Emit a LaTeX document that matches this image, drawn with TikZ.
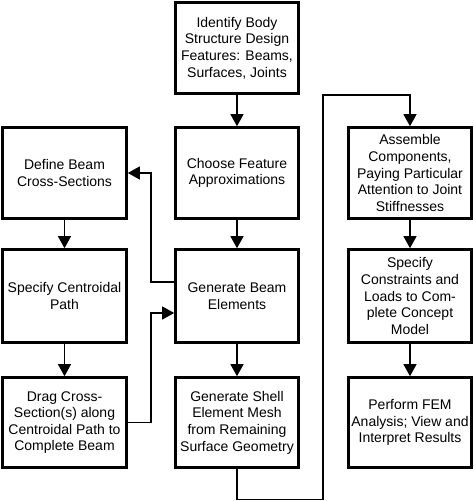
\documentclass[tikz,border=0pt]{standalone}
\usepackage{fontspec}
\setmainfont{Liberation Sans}
\usetikzlibrary{arrows.meta}
\tikzset{
  box/.style={draw=black, line width=2.6pt, fill=white, align=center, inner sep=0pt,
    minimum width=123pt, font=\fontsize{14}{16.6}\selectfont},
  arr/.style={line width=1.2pt, -{Triangle[length=12pt,width=13pt]}},
  conn/.style={line width=1.2pt}
}
\begin{document}
\begin{tikzpicture}[x=1pt,y=-1pt]
\useasboundingbox (0,0) rectangle (474,501);
% top
\node[box, minimum height=91pt] (id) at (237,48) {Identify Body\\Structure Design\\Features: Beams,\\Surfaces, Joints};
% row 1
\node[box, minimum height=91pt, minimum width=124pt] (db) at (64.5,173) {Define Beam\\Cross-Sections};
\node[box, minimum height=91pt] (cf) at (237,173) {Choose Feature\\Approximations};
\node[box, minimum height=91pt] (as) at (410,173) {Assemble\\Components,\\Paying Particular\\Attention to Joint\\Stiffnesses};
% row 2
\node[box, minimum height=93pt, minimum width=124pt] (sc) at (64.5,296) {Specify Centroidal\\Path};
\node[box, minimum height=93pt] (gb) at (237,296) {Generate Beam\\Elements};
\node[box, minimum height=93pt] (sp) at (410,296) {Specify\\Constraints and\\Loads to Com-\\plete Concept\\Model};
% row 3
\node[box, minimum height=90pt, minimum width=124pt] (dc) at (64.5,422.5) {Drag Cross-\\Section(s) along\\Centroidal Path to\\Complete Beam};
\node[box, minimum height=90pt] (gs) at (237,422.5) {Generate Shell\\Element Mesh\\from Remaining\\Surface Geometry};
\node[box, minimum height=90pt] (pf) at (410,422.5) {Perform FEM\\Analysis; View and\\Interpret Results};
% vertical arrows
\draw[arr] (id) -- (cf);
\draw[arr] (cf) -- (gb);
\draw[arr] (gb) -- (gs);
\draw[arr] (db) -- (sc);
\draw[arr] (sc) -- (dc);
\draw[arr] (as) -- (sp);
\draw[arr] (sp) -- (pf);
% loops
\coordinate (l1) at (151,282);
\coordinate (l2) at (151,422.5);
\draw[arr] ([yshift=14pt]gb.west) -- (l1) |- (db.east);
\draw[arr] (dc.east) -- (l2) |- ([yshift=-17pt]gb.west);
\coordinate (b1) at (323,499.4);
\coordinate (b2) at (323,95);
\draw[arr] (gs.south) |- (b1) -- (b2) -| (as.north);
\end{tikzpicture}
\end{document}
